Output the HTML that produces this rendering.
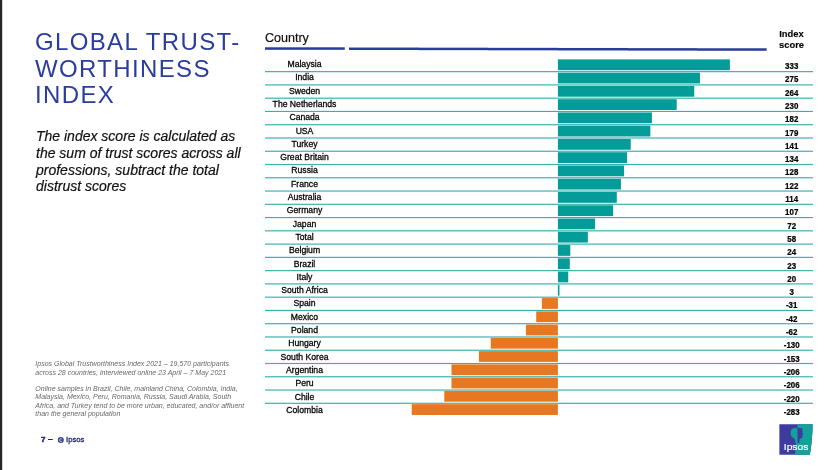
<!DOCTYPE html>
<html><head><meta charset="utf-8"><style>
*{margin:0;padding:0;box-sizing:border-box}
html,body{width:840px;height:470px;overflow:hidden;background:#fff}
body{position:relative;font-family:"Liberation Sans",sans-serif}
#wrap{position:absolute;left:0;top:0;width:840px;height:470px;will-change:transform}
#lb{position:absolute;left:0;top:0;width:2px;height:470px;background:#262626}
#lb2{position:absolute;left:2px;top:0;width:1px;height:470px;background:#d4d4d4}
#title{position:absolute;left:35px;top:29.3px;font-size:24px;line-height:26.5px;color:#2a3c9e;letter-spacing:1.35px;white-space:nowrap}
#sub{position:absolute;left:36px;top:128.4px;font-size:14px;line-height:16.63px;color:#111;font-style:italic;-webkit-text-stroke:0.2px #111;white-space:nowrap}
svg{position:absolute;left:0;top:0}
svg text{font-family:"Liberation Sans",sans-serif}
</style></head><body><div id="wrap">
<div id="lb"></div><div id="lb2"></div>
<div id="title">GLOBAL TRUST-<br>WORTHINESS<br>INDEX</div>
<div id="sub">The index score is calculated as<br>the sum of trust scores across all<br>professions, subtract the total<br>distrust scores</div>
<svg width="840" height="470" viewBox="0 0 840 470">
<rect x="265" y="47.3" width="79.8" height="2.5" fill="#2a3c9e"/>
<rect x="349" y="47.525" width="70.0" height="2.5" fill="#2a3c9e"/>
<rect x="419" y="47.675" width="69.0" height="2.5" fill="#2a3c9e"/>
<rect x="488" y="47.825" width="70.0" height="2.5" fill="#2a3c9e"/>
<rect x="558" y="47.976" width="70.0" height="2.5" fill="#2a3c9e"/>
<rect x="628" y="48.125" width="69.0" height="2.5" fill="#2a3c9e"/>
<rect x="697" y="48.275" width="69.7" height="2.5" fill="#2a3c9e"/>
<text transform="translate(265 41.9) scale(0.93 1)" font-size="13.5" fill="#111" stroke="#111" stroke-width="0.2">Country</text>
<text transform="translate(791.5 36.9) scale(0.97 1)" font-size="9.7" font-weight="bold" fill="#000" stroke="#000" stroke-width="0.12" text-anchor="middle">Index</text>
<text transform="translate(791.5 47.9) scale(0.97 1)" font-size="9.7" font-weight="bold" fill="#000" stroke="#000" stroke-width="0.12" text-anchor="middle">score</text>
<rect x="265" y="71.08" width="548" height="1.15" fill="#36b1ac"/>
<rect x="265" y="84.34" width="548" height="1.15" fill="#36b1ac"/>
<rect x="265" y="97.61" width="548" height="1.15" fill="#36b1ac"/>
<rect x="265" y="110.87" width="548" height="1.15" fill="#36b1ac"/>
<rect x="265" y="124.14" width="548" height="1.15" fill="#36b1ac"/>
<rect x="265" y="137.41" width="548" height="1.15" fill="#36b1ac"/>
<rect x="265" y="150.67" width="548" height="1.15" fill="#36b1ac"/>
<rect x="265" y="163.94" width="548" height="1.15" fill="#36b1ac"/>
<rect x="265" y="177.20" width="548" height="1.15" fill="#36b1ac"/>
<rect x="265" y="190.47" width="548" height="1.15" fill="#36b1ac"/>
<rect x="265" y="203.74" width="548" height="1.15" fill="#36b1ac"/>
<rect x="265" y="217.00" width="548" height="1.15" fill="#36b1ac"/>
<rect x="265" y="230.27" width="548" height="1.15" fill="#36b1ac"/>
<rect x="265" y="243.53" width="548" height="1.15" fill="#36b1ac"/>
<rect x="265" y="256.80" width="548" height="1.15" fill="#36b1ac"/>
<rect x="265" y="270.06" width="548" height="1.15" fill="#36b1ac"/>
<rect x="265" y="283.33" width="548" height="1.15" fill="#36b1ac"/>
<rect x="265" y="296.60" width="548" height="1.15" fill="#36b1ac"/>
<rect x="265" y="309.86" width="548" height="1.15" fill="#36b1ac"/>
<rect x="265" y="323.13" width="548" height="1.15" fill="#36b1ac"/>
<rect x="265" y="336.40" width="548" height="1.15" fill="#36b1ac"/>
<rect x="265" y="349.66" width="548" height="1.15" fill="#36b1ac"/>
<rect x="265" y="362.93" width="548" height="1.15" fill="#36b1ac"/>
<rect x="265" y="376.19" width="548" height="1.15" fill="#36b1ac"/>
<rect x="265" y="389.46" width="548" height="1.15" fill="#36b1ac"/>
<rect x="265" y="402.72" width="548" height="1.15" fill="#36b1ac"/>
<rect x="557.90" y="59.40" width="171.99" height="10.8" fill="#039c98"/>
<text transform="translate(304.5 67.00) scale(0.94 1)" font-size="9.2" fill="#000" stroke="#000" stroke-width="0.3" text-anchor="middle">Malaysia</text>
<text transform="translate(791.7 69.00) scale(0.88 1)" font-size="9.0" font-weight="bold" fill="#000" stroke="#000" stroke-width="0.25" text-anchor="middle">333</text>
<rect x="557.90" y="72.66" width="142.04" height="10.8" fill="#039c98"/>
<text transform="translate(304.5 80.30) scale(0.94 1)" font-size="9.2" fill="#000" stroke="#000" stroke-width="0.3" text-anchor="middle">India</text>
<text transform="translate(791.7 82.30) scale(0.88 1)" font-size="9.0" font-weight="bold" fill="#000" stroke="#000" stroke-width="0.25" text-anchor="middle">275</text>
<rect x="557.90" y="85.92" width="136.36" height="10.8" fill="#039c98"/>
<text transform="translate(304.5 93.60) scale(0.94 1)" font-size="9.2" fill="#000" stroke="#000" stroke-width="0.3" text-anchor="middle">Sweden</text>
<text transform="translate(791.7 95.60) scale(0.88 1)" font-size="9.0" font-weight="bold" fill="#000" stroke="#000" stroke-width="0.25" text-anchor="middle">264</text>
<rect x="557.90" y="99.18" width="118.79" height="10.8" fill="#039c98"/>
<text transform="translate(304.5 106.90) scale(0.94 1)" font-size="9.2" fill="#000" stroke="#000" stroke-width="0.3" text-anchor="middle">The Netherlands</text>
<text transform="translate(791.7 108.90) scale(0.88 1)" font-size="9.0" font-weight="bold" fill="#000" stroke="#000" stroke-width="0.25" text-anchor="middle">230</text>
<rect x="557.90" y="112.44" width="94.00" height="10.8" fill="#039c98"/>
<text transform="translate(304.5 120.20) scale(0.94 1)" font-size="9.2" fill="#000" stroke="#000" stroke-width="0.3" text-anchor="middle">Canada</text>
<text transform="translate(791.7 122.20) scale(0.88 1)" font-size="9.0" font-weight="bold" fill="#000" stroke="#000" stroke-width="0.25" text-anchor="middle">182</text>
<rect x="557.90" y="125.70" width="92.45" height="10.8" fill="#039c98"/>
<text transform="translate(304.5 133.50) scale(0.94 1)" font-size="9.2" fill="#000" stroke="#000" stroke-width="0.3" text-anchor="middle">USA</text>
<text transform="translate(791.7 135.50) scale(0.88 1)" font-size="9.0" font-weight="bold" fill="#000" stroke="#000" stroke-width="0.25" text-anchor="middle">179</text>
<rect x="557.90" y="138.96" width="72.83" height="10.8" fill="#039c98"/>
<text transform="translate(304.5 146.80) scale(0.94 1)" font-size="9.2" fill="#000" stroke="#000" stroke-width="0.3" text-anchor="middle">Turkey</text>
<text transform="translate(791.7 148.80) scale(0.88 1)" font-size="9.0" font-weight="bold" fill="#000" stroke="#000" stroke-width="0.25" text-anchor="middle">141</text>
<rect x="557.90" y="152.22" width="69.21" height="10.8" fill="#039c98"/>
<text transform="translate(304.5 160.10) scale(0.94 1)" font-size="9.2" fill="#000" stroke="#000" stroke-width="0.3" text-anchor="middle">Great Britain</text>
<text transform="translate(791.7 162.10) scale(0.88 1)" font-size="9.0" font-weight="bold" fill="#000" stroke="#000" stroke-width="0.25" text-anchor="middle">134</text>
<rect x="557.90" y="165.48" width="66.11" height="10.8" fill="#039c98"/>
<text transform="translate(304.5 173.40) scale(0.94 1)" font-size="9.2" fill="#000" stroke="#000" stroke-width="0.3" text-anchor="middle">Russia</text>
<text transform="translate(791.7 175.40) scale(0.88 1)" font-size="9.0" font-weight="bold" fill="#000" stroke="#000" stroke-width="0.25" text-anchor="middle">128</text>
<rect x="557.90" y="178.74" width="63.01" height="10.8" fill="#039c98"/>
<text transform="translate(304.5 186.70) scale(0.94 1)" font-size="9.2" fill="#000" stroke="#000" stroke-width="0.3" text-anchor="middle">France</text>
<text transform="translate(791.7 188.70) scale(0.88 1)" font-size="9.0" font-weight="bold" fill="#000" stroke="#000" stroke-width="0.25" text-anchor="middle">122</text>
<rect x="557.90" y="192.00" width="58.88" height="10.8" fill="#039c98"/>
<text transform="translate(304.5 200.00) scale(0.94 1)" font-size="9.2" fill="#000" stroke="#000" stroke-width="0.3" text-anchor="middle">Australia</text>
<text transform="translate(791.7 202.00) scale(0.88 1)" font-size="9.0" font-weight="bold" fill="#000" stroke="#000" stroke-width="0.25" text-anchor="middle">114</text>
<rect x="557.90" y="205.26" width="55.27" height="10.8" fill="#039c98"/>
<text transform="translate(304.5 213.30) scale(0.94 1)" font-size="9.2" fill="#000" stroke="#000" stroke-width="0.3" text-anchor="middle">Germany</text>
<text transform="translate(791.7 215.30) scale(0.88 1)" font-size="9.0" font-weight="bold" fill="#000" stroke="#000" stroke-width="0.25" text-anchor="middle">107</text>
<rect x="557.90" y="218.52" width="37.19" height="10.8" fill="#039c98"/>
<text transform="translate(304.5 226.60) scale(0.94 1)" font-size="9.2" fill="#000" stroke="#000" stroke-width="0.3" text-anchor="middle">Japan</text>
<text transform="translate(791.7 228.60) scale(0.88 1)" font-size="9.0" font-weight="bold" fill="#000" stroke="#000" stroke-width="0.25" text-anchor="middle">72</text>
<rect x="557.90" y="231.78" width="29.96" height="10.8" fill="#039c98"/>
<text transform="translate(304.5 239.90) scale(0.94 1)" font-size="9.2" fill="#000" stroke="#000" stroke-width="0.3" text-anchor="middle">Total</text>
<text transform="translate(791.7 241.90) scale(0.88 1)" font-size="9.0" font-weight="bold" fill="#000" stroke="#000" stroke-width="0.25" text-anchor="middle">58</text>
<rect x="557.90" y="245.04" width="12.40" height="10.8" fill="#039c98"/>
<text transform="translate(304.5 253.20) scale(0.94 1)" font-size="9.2" fill="#000" stroke="#000" stroke-width="0.3" text-anchor="middle">Belgium</text>
<text transform="translate(791.7 255.20) scale(0.88 1)" font-size="9.0" font-weight="bold" fill="#000" stroke="#000" stroke-width="0.25" text-anchor="middle">24</text>
<rect x="557.90" y="258.30" width="11.88" height="10.8" fill="#039c98"/>
<text transform="translate(304.5 266.50) scale(0.94 1)" font-size="9.2" fill="#000" stroke="#000" stroke-width="0.3" text-anchor="middle">Brazil</text>
<text transform="translate(791.7 268.50) scale(0.88 1)" font-size="9.0" font-weight="bold" fill="#000" stroke="#000" stroke-width="0.25" text-anchor="middle">23</text>
<rect x="557.90" y="271.56" width="10.33" height="10.8" fill="#039c98"/>
<text transform="translate(304.5 279.80) scale(0.94 1)" font-size="9.2" fill="#000" stroke="#000" stroke-width="0.3" text-anchor="middle">Italy</text>
<text transform="translate(791.7 281.80) scale(0.88 1)" font-size="9.0" font-weight="bold" fill="#000" stroke="#000" stroke-width="0.25" text-anchor="middle">20</text>
<rect x="557.90" y="284.82" width="1.55" height="10.8" fill="#039c98"/>
<text transform="translate(304.5 293.10) scale(0.94 1)" font-size="9.2" fill="#000" stroke="#000" stroke-width="0.3" text-anchor="middle">South Africa</text>
<text transform="translate(791.7 295.10) scale(0.88 1)" font-size="9.0" font-weight="bold" fill="#000" stroke="#000" stroke-width="0.25" text-anchor="middle">3</text>
<rect x="541.89" y="298.08" width="16.01" height="10.8" fill="#e77821"/>
<text transform="translate(304.5 306.40) scale(0.94 1)" font-size="9.2" fill="#000" stroke="#000" stroke-width="0.3" text-anchor="middle">Spain</text>
<text transform="translate(791.7 308.40) scale(0.88 1)" font-size="9.0" font-weight="bold" fill="#000" stroke="#000" stroke-width="0.25" text-anchor="middle">-31</text>
<rect x="536.21" y="311.34" width="21.69" height="10.8" fill="#e77821"/>
<text transform="translate(304.5 319.70) scale(0.94 1)" font-size="9.2" fill="#000" stroke="#000" stroke-width="0.3" text-anchor="middle">Mexico</text>
<text transform="translate(791.7 321.70) scale(0.88 1)" font-size="9.0" font-weight="bold" fill="#000" stroke="#000" stroke-width="0.25" text-anchor="middle">-42</text>
<rect x="525.88" y="324.60" width="32.02" height="10.8" fill="#e77821"/>
<text transform="translate(304.5 333.00) scale(0.94 1)" font-size="9.2" fill="#000" stroke="#000" stroke-width="0.3" text-anchor="middle">Poland</text>
<text transform="translate(791.7 335.00) scale(0.88 1)" font-size="9.0" font-weight="bold" fill="#000" stroke="#000" stroke-width="0.25" text-anchor="middle">-62</text>
<rect x="490.75" y="337.86" width="67.14" height="10.8" fill="#e77821"/>
<text transform="translate(304.5 346.30) scale(0.94 1)" font-size="9.2" fill="#000" stroke="#000" stroke-width="0.3" text-anchor="middle">Hungary</text>
<text transform="translate(791.7 348.30) scale(0.88 1)" font-size="9.0" font-weight="bold" fill="#000" stroke="#000" stroke-width="0.25" text-anchor="middle">-130</text>
<rect x="478.88" y="351.12" width="79.02" height="10.8" fill="#e77821"/>
<text transform="translate(304.5 359.60) scale(0.94 1)" font-size="9.2" fill="#000" stroke="#000" stroke-width="0.3" text-anchor="middle">South Korea</text>
<text transform="translate(791.7 361.60) scale(0.88 1)" font-size="9.0" font-weight="bold" fill="#000" stroke="#000" stroke-width="0.25" text-anchor="middle">-153</text>
<rect x="451.50" y="364.38" width="106.40" height="10.8" fill="#e77821"/>
<text transform="translate(304.5 372.90) scale(0.94 1)" font-size="9.2" fill="#000" stroke="#000" stroke-width="0.3" text-anchor="middle">Argentina</text>
<text transform="translate(791.7 374.90) scale(0.88 1)" font-size="9.0" font-weight="bold" fill="#000" stroke="#000" stroke-width="0.25" text-anchor="middle">-206</text>
<rect x="451.50" y="377.64" width="106.40" height="10.8" fill="#e77821"/>
<text transform="translate(304.5 386.20) scale(0.94 1)" font-size="9.2" fill="#000" stroke="#000" stroke-width="0.3" text-anchor="middle">Peru</text>
<text transform="translate(791.7 388.20) scale(0.88 1)" font-size="9.0" font-weight="bold" fill="#000" stroke="#000" stroke-width="0.25" text-anchor="middle">-206</text>
<rect x="444.27" y="390.90" width="113.63" height="10.8" fill="#e77821"/>
<text transform="translate(304.5 399.50) scale(0.94 1)" font-size="9.2" fill="#000" stroke="#000" stroke-width="0.3" text-anchor="middle">Chile</text>
<text transform="translate(791.7 401.50) scale(0.88 1)" font-size="9.0" font-weight="bold" fill="#000" stroke="#000" stroke-width="0.25" text-anchor="middle">-220</text>
<rect x="411.73" y="404.16" width="146.17" height="10.8" fill="#e77821"/>
<text transform="translate(304.5 412.80) scale(0.94 1)" font-size="9.2" fill="#000" stroke="#000" stroke-width="0.3" text-anchor="middle">Colombia</text>
<text transform="translate(791.7 414.80) scale(0.88 1)" font-size="9.0" font-weight="bold" fill="#000" stroke="#000" stroke-width="0.25" text-anchor="middle">-283</text>
<text x="35.3" y="366.1" font-size="7.03" font-style="italic" fill="#686868">Ipsos Global Trustworthiness Index 2021 – 19,570 participants</text>
<text x="35.3" y="374.6" font-size="7.03" font-style="italic" fill="#686868">across 28 countries, interviewed online 23 April – 7 May 2021</text>
<text x="35.3" y="390.7" font-size="7.03" font-style="italic" fill="#686868">Online samples in Brazil, Chile, mainland China, Colombia, India,</text>
<text x="35.3" y="399.4" font-size="7.03" font-style="italic" fill="#686868">Malaysia, Mexico, Peru, Romania, Russia, Saudi Arabia, South</text>
<text x="35.3" y="407.7" font-size="7.03" font-style="italic" fill="#686868">Africa, and Turkey tend to be more urban, educated, and/or affluent</text>
<text x="35.3" y="415.9" font-size="7.03" font-style="italic" fill="#686868">than the general population</text>
<text x="41.0" y="441.9" font-size="8" font-weight="bold" fill="#1e2873" stroke="#1e2873" stroke-width="0.45">7</text>
<rect x="48" y="439" width="4.8" height="1" fill="#1e2873"/>
<circle cx="60.8" cy="440.1" r="3" fill="#343d8c"/>
<path d="M62.1 439.3 A1.4 1.4 0 1 0 62.1 440.9" stroke="#fff" stroke-width="0.8" fill="none" opacity="0.85"/>
<text x="66.0" y="442.1" font-size="7.7" fill="#1e2873" stroke="#1e2873" stroke-width="0.3">Ipsos</text>
<defs>
<clipPath id="lg"><path d="M779.4 424.2H812.6C812.6 431 811.8 444 809.8 454.8H779.4Z"/></clipPath>
<clipPath id="hl"><rect x="779" y="424" width="18.6" height="31"/></clipPath>
<clipPath id="hr"><rect x="797.6" y="424" width="16" height="31"/></clipPath>
</defs>
<g id="logo" clip-path="url(#lg)">
<rect x="779" y="424" width="35" height="31" fill="#3c3b9e"/>
<path d="M797.3 424H814V455H794.9L796 443L797.6 428Z" fill="#12a29b"/>
<path d="M797.5 428.1L793.6 428.2C792 428.4 791 429.6 790.8 431.3L790.7 434C790.8 435.8 791.8 437.1 793.2 437.8C794.3 438.4 794.9 439.3 795.1 440.5L795.3 443H797.5Z" fill="#12a29b"/>
<path d="M797.5 428.1L801 428C802 428.2 802.6 429.2 802.6 430.5L802.4 432.6L803.2 433.6L802.5 434.3L802.6 435.3L802.3 435.9L802.5 436.8C802.3 437.8 801.5 438.3 800.5 438.5C799.8 438.8 799.5 439.5 799.5 440.5L799.5 443H797.5Z" fill="#3c3b9e"/>
<text transform="translate(783.8 449.9) scale(1.07 1)" font-size="9.6" fill="#fff" stroke="#fff" stroke-width="0.2">Ipsos</text>
</g>
</svg>
</div></body></html>
